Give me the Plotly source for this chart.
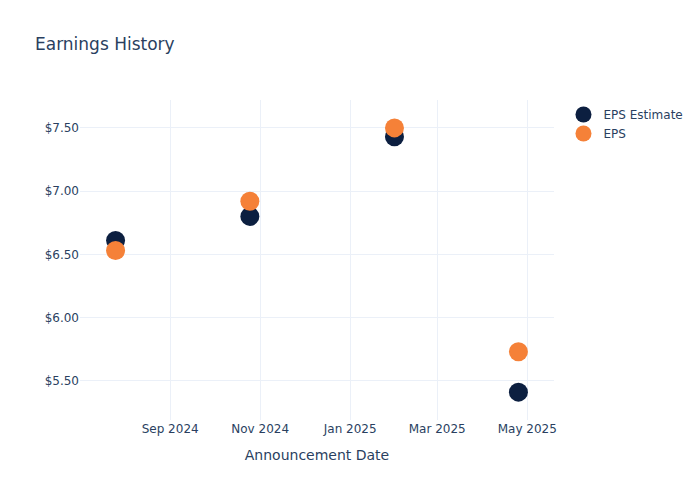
import plotly.graph_objects as go

# =========================
# DATA
# =========================

dates = ["2024-07-26", "2024-10-25", "2025-01-31", "2025-04-25"]
eps_estimate = [6.61, 6.80, 7.43, 5.41]
eps_actual = [6.53, 6.92, 7.50, 5.73]

# =========================
# CHART
# =========================

fig = go.Figure()

fig.add_trace(
    go.Scatter(
        x=dates,
        y=eps_estimate,
        name="EPS Estimate",
        mode="markers",
        marker=dict(color="#0c1f40", size=19),
    )
)
fig.add_trace(
    go.Scatter(
        x=dates,
        y=eps_actual,
        name="EPS",
        mode="markers",
        marker=dict(color="#f58138", size=19),
    )
)

fig.update_layout(
    template="plotly_white",
    font=dict(family="DejaVu Sans"),
    title="Earnings History",
    width=700,
    height=500,
    xaxis=dict(title="Announcement Date", dtick="M2", tickformat="%b %Y"),
    yaxis=dict(tickformat="$.2f"),
)

# drop the browser's default body margin so the 700x500 figure fills the window
fig.write_html(
    "out.html",
    config={"displayModeBar": False},
    post_script="document.body.style.margin = '0';",
)
